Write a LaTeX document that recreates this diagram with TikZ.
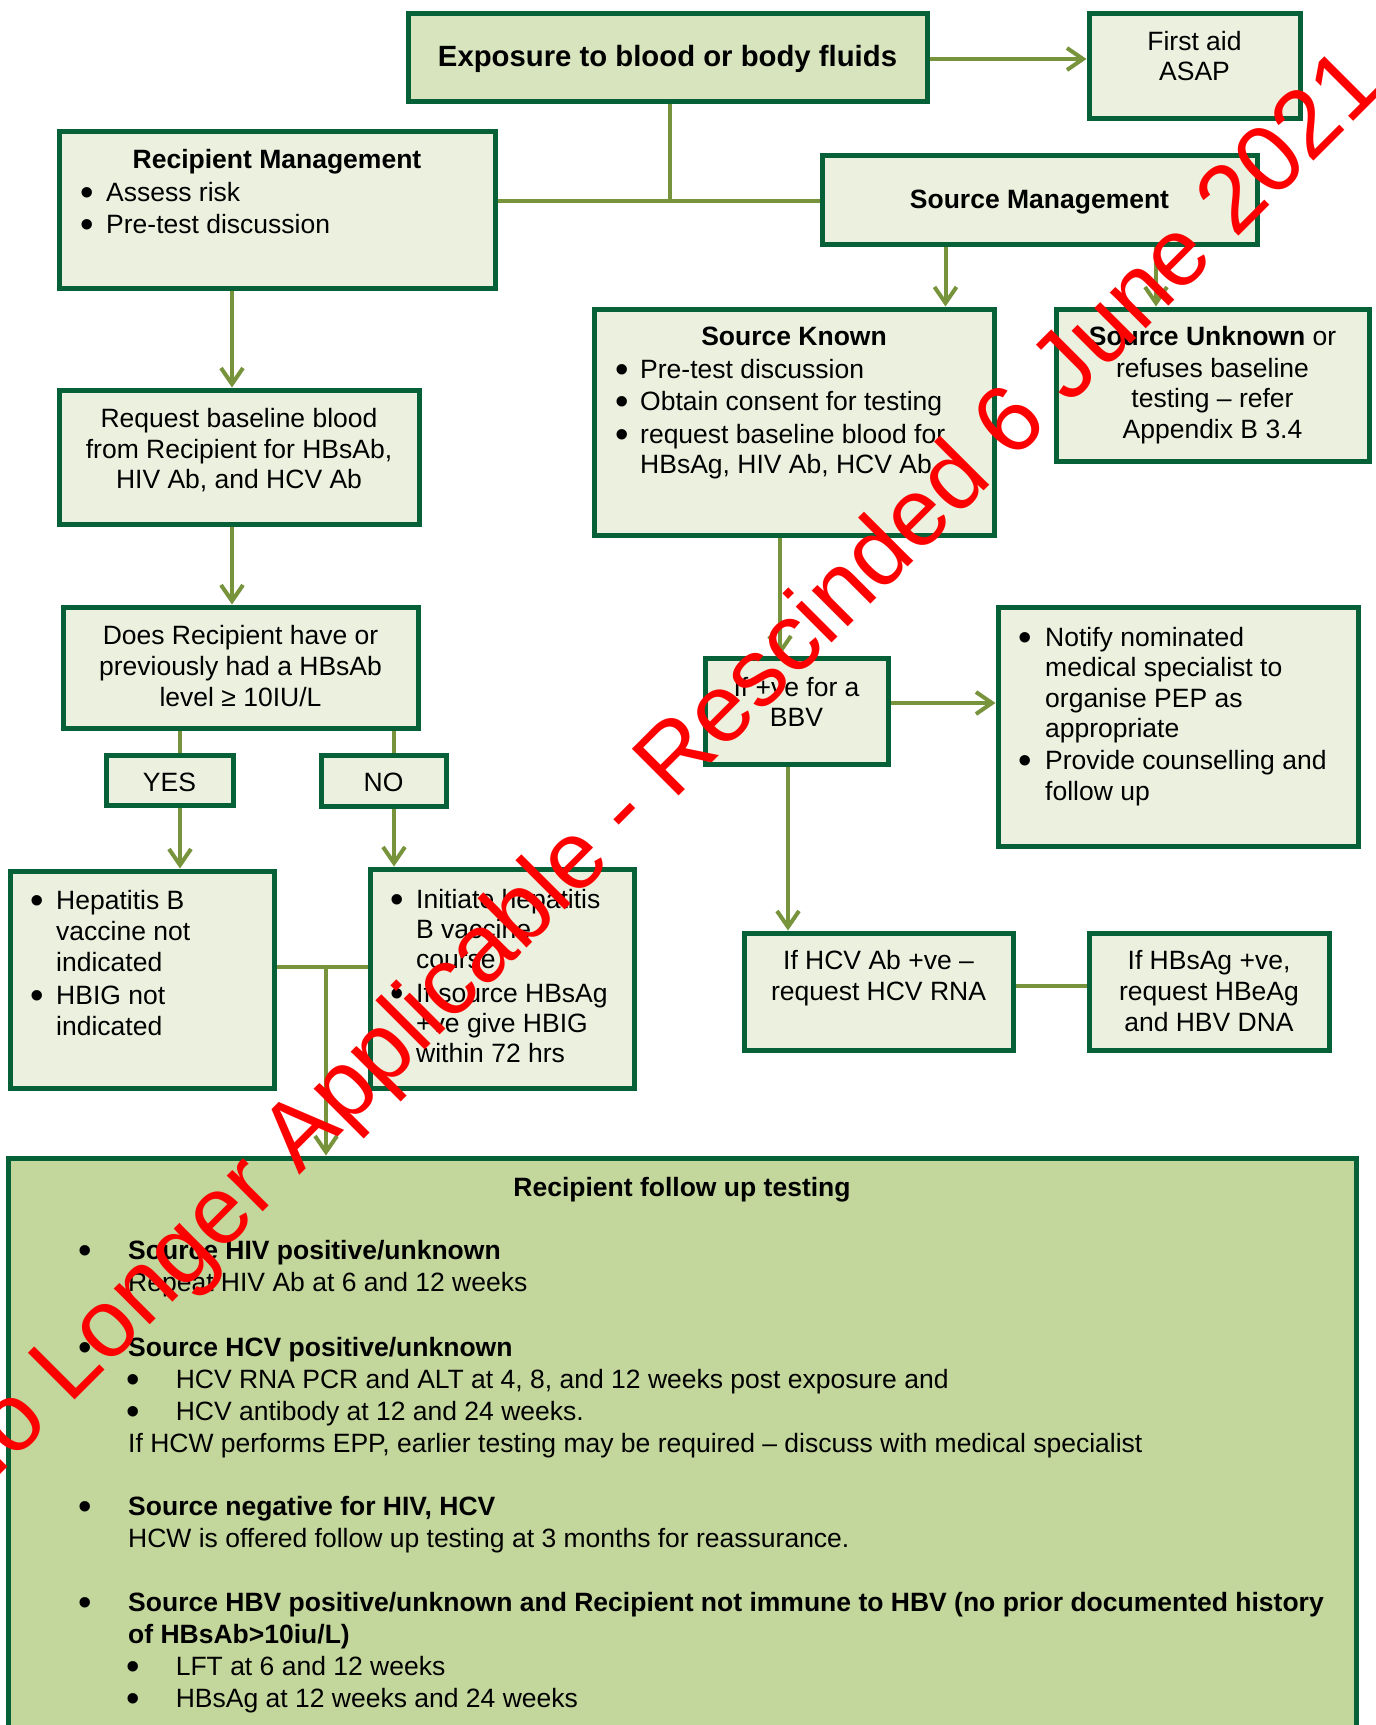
\documentclass[tikz,border=0pt]{standalone}
\usepackage{graphicx}
\usepackage{fontspec}
\setmainfont{Liberation Sans}
\usetikzlibrary{arrows.meta}
\definecolor{bord}{RGB}{6,96,56}
\definecolor{conn}{RGB}{119,147,60}
\definecolor{boxfill}{RGB}{235,241,222}
\definecolor{topfill}{RGB}{215,228,189}
\definecolor{fufill}{RGB}{195,214,155}
\definecolor{wmred}{RGB}{255,0,0}
\newcommand\TC[1]{\begin{tabular}[t]{@{}c@{}}#1\end{tabular}}
\newcommand\TL[1]{\begin{tabular}[t]{@{}l@{}}#1\end{tabular}}
\newlength\bgap
\newcommand\bu{\makebox[\bgap][l]{\hspace*{-2.1pt}\raisebox{-4.2pt}{\scalebox{1.45}{\textbullet}}}}
\newcommand\bi{\hspace*{\bgap}}
\newcommand\fsz[1]{\fontsize{26.5}{#1}\selectfont}
\begin{document}
\begin{tikzpicture}[x=1pt,y=-1pt,
  box/.style={draw=bord, line width=5pt, fill=boxfill, inner sep=0pt},
  ln/.style={draw=conn, line width=4pt},
  arr/.style={ln, -{Straight Barb[length=16pt,width=22pt]}},
  txt/.style={inner sep=0pt, anchor=base},
  txl/.style={inner sep=0pt, anchor=base west},
  wmk/.style={inner sep=0pt, anchor=base west, rotate=45, text=wmred,
    font=\fontsize{96}{96}\selectfont}
]
\useasboundingbox (0,0) rectangle (1376,1725);
\fill[white] (0,0) rectangle (1376,1725);

% boxes
\node[box, fill=topfill, minimum width=519pt, minimum height=88pt] (expo) at (667.5,57) {};
\node[box, minimum width=211pt, minimum height=105pt] (first) at (1194.5,65.5) {};
\node[box, minimum width=436pt, minimum height=157pt] (recip) at (277,209.5) {};
\node[box, minimum width=435pt, minimum height=89pt] (srcm) at (1039.5,199.5) {};
\node[box, minimum width=400pt, minimum height=226pt] (known) at (794,422) {};
\node[box, minimum width=313pt, minimum height=152pt] (unknown) at (1212.5,385) {};
\node[box, minimum width=360pt, minimum height=134pt] (req) at (239,457) {};
\node[box, minimum width=355pt, minimum height=121pt] (does) at (240.5,667.5) {};
\node[box, minimum width=127pt, minimum height=50pt] (yes) at (169.5,780) {};
\node[box, minimum width=125pt, minimum height=51pt] (no) at (383.5,780.5) {};
\node[box, minimum width=264pt, minimum height=217pt] (hepb) at (142,979.5) {};
\node[box, minimum width=264pt, minimum height=219pt] (init) at (502,978.5) {};
\node[box, minimum width=183pt, minimum height=106pt] (bbv) at (796.5,711) {};
\node[box, minimum width=360pt, minimum height=239pt] (notify) at (1178,726.5) {};
\node[box, minimum width=269pt, minimum height=117pt] (hcv) at (878.5,991.5) {};
\node[box, minimum width=240pt, minimum height=117pt] (hbsag) at (1209,991.5) {};
\node[box, fill=fufill, minimum width=1348pt, minimum height=600pt] (fu) at (682,1458) {};

% connectors
\coordinate (j1) at (670,201);
\coordinate (j2) at (326,967);
\draw[arr] (expo.east |- 0,59) -- (first.west |- 0,59);
\draw[ln] (expo.south -| j1) -- (j1);
\draw[ln] (recip.east |- j1) -- (srcm.west |- j1);
\draw[arr] (srcm.south -| 945.5,0) -- (known.north -| 945.5,0);
\draw[arr] (srcm.south -| 1156,0) -- (unknown.north -| 1156,0);
\draw[arr] (recip.south -| 232,0) -- (req.north -| 232,0);
\draw[arr] (req.south -| 232,0) -- (does.north -| 232,0);
\draw[ln] (does.south -| 180,0) -- (yes.north -| 180,0);
\draw[ln] (does.south -| 394,0) -- (no.north -| 394,0);
\draw[arr] (yes.south -| 180,0) -- (hepb.north -| 180,0);
\draw[arr] (no.south -| 394,0) -- (init.north -| 394,0);
\draw[ln] (hepb.east |- j2) -- (init.west |- j2);
\draw[arr] (j2) -- (fu.north -| j2);
\draw[arr] (known.south -| 780,0) -- (bbv.north -| 780,0);
\draw[arr] (bbv.east |- 0,703) -- (notify.west |- 0,703);
\draw[arr] (bbv.south -| 788,0) -- (hcv.north -| 788,0);
\draw[ln] (hcv.east |- 0,986) -- (hbsag.west |- 0,986);

% texts
\node[txt, font=\fontsize{29.3}{33}\selectfont\bfseries] (texpo) at (667.5,66) {Exposure to blood or body fluids};
\node[txt, font=\fsz{30}] (tfirst) at (1194.5,50) {\TC{First aid\\ASAP}};
\node[txt, font=\fsz{32}\bfseries] (trecipT) at (277,168) {Recipient Management};
\node[txl, font=\fsz{32}] (trecip) at (82.4,201) {\setlength\bgap{23.6pt}\TL{\bu Assess risk\\ \bu Pre-test discussion}};
\node[txt, font=\fsz{31}\bfseries] (tsrcm) at (1039.5,208) {Source Management};
\node[txt, font=\fsz{31}\bfseries] (tknownT) at (794,345) {Source Known};
\node[txl, font=\fsz{30.5}] (tknown) at (617.4,378) {\setlength\bgap{22.6pt}\TL{\bu Pre-test discussion\\[1.5pt] \bu Obtain consent for testing\\[2.5pt] \bu request baseline blood for\\ \bi HBsAg, HIV Ab, HCV Ab}};
\node[txt, font=\fsz{30.5}] (tunknown) at (1212.5,345) {\TC{\textbf{Source Unknown} or\\[1.5pt] refuses baseline\\ testing – refer\\ Appendix B 3.4}};
\node[txt, font=\fsz{30.5}] (treq) at (239,427.5) {\TC{Request baseline blood\\ from Recipient for HBsAb,\\ HIV Ab, and HCV Ab}};
\node[txt, font=\fsz{31}] (tdoes) at (240.5,644) {\TC{Does Recipient have or\\ previously had a HBsAb\\ level ≥ 10IU/L}};
\node[txt, font=\fsz{31}] (tyes) at (169.5,791) {YES};
\node[txt, font=\fsz{31}] (tno) at (383.5,791) {NO};
\node[txl, font=\fsz{31}] (thepb) at (32.4,909) {\setlength\bgap{23.6pt}\TL{\bu Hepatitis B\\ \bi vaccine not\\ \bi indicated\\[2pt] \bu HBIG not\\ \bi indicated}};
\node[txl, font=\fsz{30}] (tinit) at (392.4,908) {\setlength\bgap{23.6pt}\TL{\bu Initiate hepatitis\\ \bi B vaccine\\ \bi course\\[4pt] \bu If source HBsAg\\ \bi +ve give HBIG\\ \bi within 72 hrs}};
\node[txt, font=\fsz{30}] (tbbv) at (796.5,696) {\TC{If +ve for a\\ BBV}};
\node[txl, font=\fsz{30.5}] (tnotify) at (1020.4,646) {\setlength\bgap{24.6pt}\TL{\bu Notify nominated\\ \bi medical specialist to\\ \bi organise PEP as\\ \bi appropriate\\[1.5pt] \bu Provide counselling and\\ \bi follow up}};
\node[txt, font=\fsz{31}] (thcv) at (878.5,969) {\TC{If HCV Ab +ve –\\ request HCV RNA}};
\node[txt, font=\fsz{31}] (thbsag) at (1209,969) {\TC{If HBsAg +ve,\\ request HBeAg\\ and HBV DNA}};
\node[txt, font=\fsz{32}\bfseries] (tfuT) at (682,1196) {Recipient follow up testing};
\node[txl, font=\fsz{32}] (tfu) at (80.4,1259) {\setlength\bgap{47.6pt}\TL{%
\bu\textbf{Source HIV positive/unknown}\\
\bi Repeat HIV Ab at 6 and 12 weeks\\[33pt]
\bu\textbf{Source HCV positive/unknown}\\
\bi\bu HCV RNA PCR and ALT at 4, 8, and 12 weeks post exposure and\\
\bi\bu HCV antibody at 12 and 24 weeks.\\
\bi If HCW performs EPP, earlier testing may be required – discuss with medical specialist\\[31pt]
\bu\textbf{Source negative for HIV, HCV}\\
\bi HCW is offered follow up testing at 3 months for reassurance.\\[32pt]
\bu\textbf{Source HBV positive/unknown and Recipient not immune to HBV (no prior documented history}\\
\bi\textbf{of HBsAb>10iu/L)}\\
\bi\bu LFT at 6 and 12 weeks\\
\bi\bu HBsAg at 12 weeks and 24 weeks}};

% watermark
\node[wmk] (wm) at (-36,1511) {No Longer Applicable - Rescinded 6 June 2021};
\end{tikzpicture}
\end{document}
